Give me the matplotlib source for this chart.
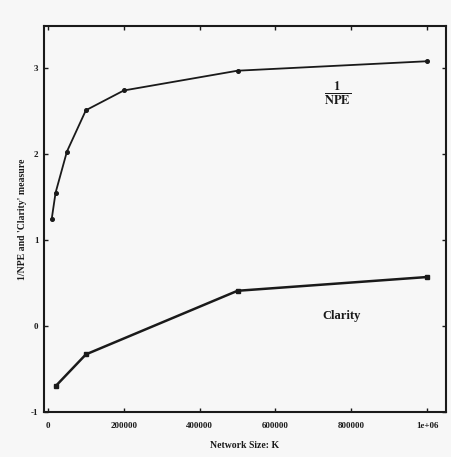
import matplotlib
matplotlib.use("Agg")
import matplotlib.pyplot as plt

# Network sizes and the two measures
npe_sizes = [10000, 20000, 50000, 100000, 200000, 500000, 1000000]
inv_npe = [1.25, 1.55, 2.03, 2.51, 2.74, 2.97, 3.08]

clarity_sizes = [20000, 100000, 500000, 1000000]
clarity = [-0.70, -0.33, 0.41, 0.57]

x_ticks = [0, 200000, 400000, 600000, 800000, 1000000]
x_tick_labels = ["0", "200000", "400000", "600000", "800000", "1e+06"]
y_ticks = [-1, 0, 1, 2, 3]
y_tick_labels = ["-1", "0", "1", "2", "3"]

plt.rcParams["font.family"] = ["Liberation Serif", "DejaVu Serif"]
plt.rcParams["font.weight"] = "bold"
plt.rcParams["mathtext.fontset"] = "stix"

bg = "#f7f7f7"
ink = "#1a1a1a"

fig = plt.figure(figsize=(4.52, 4.57), dpi=100, facecolor=bg)
ax = fig.add_axes([44 / 452, 1 - 412 / 457, (446 - 44) / 452, (412 - 26) / 457])
ax.set_facecolor(bg)

ax.plot(npe_sizes, inv_npe, color=ink, lw=1.3, marker="o", ms=2.6)
ax.plot(clarity_sizes, clarity, color=ink, lw=1.8, marker="s", ms=3.2)

ax.set_xlim(-10500, 1050000)
ax.set_ylim(-1.0, 3.49)

ax.set_xticks(x_ticks)
ax.set_xticklabels(x_tick_labels)
ax.set_yticks(y_ticks)
ax.set_yticklabels(y_tick_labels)
ax.tick_params(direction="in", length=3, width=1.0, colors=ink,
               labelsize=6.5, top=True, right=True, pad=4)
ax.tick_params(axis="x", pad=7)
for lab in ax.get_xticklabels() + ax.get_yticklabels():
    lab.set_fontweight("bold")
for sp in ax.spines.values():
    sp.set_linewidth(1.5)
    sp.set_color(ink)

ax.set_xlabel("Network Size: K", fontsize=7, fontweight="bold", labelpad=8, color=ink)
ax.set_ylabel("1/NPE and 'Clarity' measure", fontsize=7, fontweight="bold",
              labelpad=3, color=ink)

ax.text(765000, 2.71, r"$\frac{\mathbf{1}}{\mathbf{NPE}}$", fontsize=13,
        ha="center", va="center", color=ink)
ax.text(775000, 0.12, "Clarity", fontsize=9, fontweight="bold",
        ha="center", va="center", color=ink)

fig.savefig("out.png", dpi=100, facecolor=bg)
